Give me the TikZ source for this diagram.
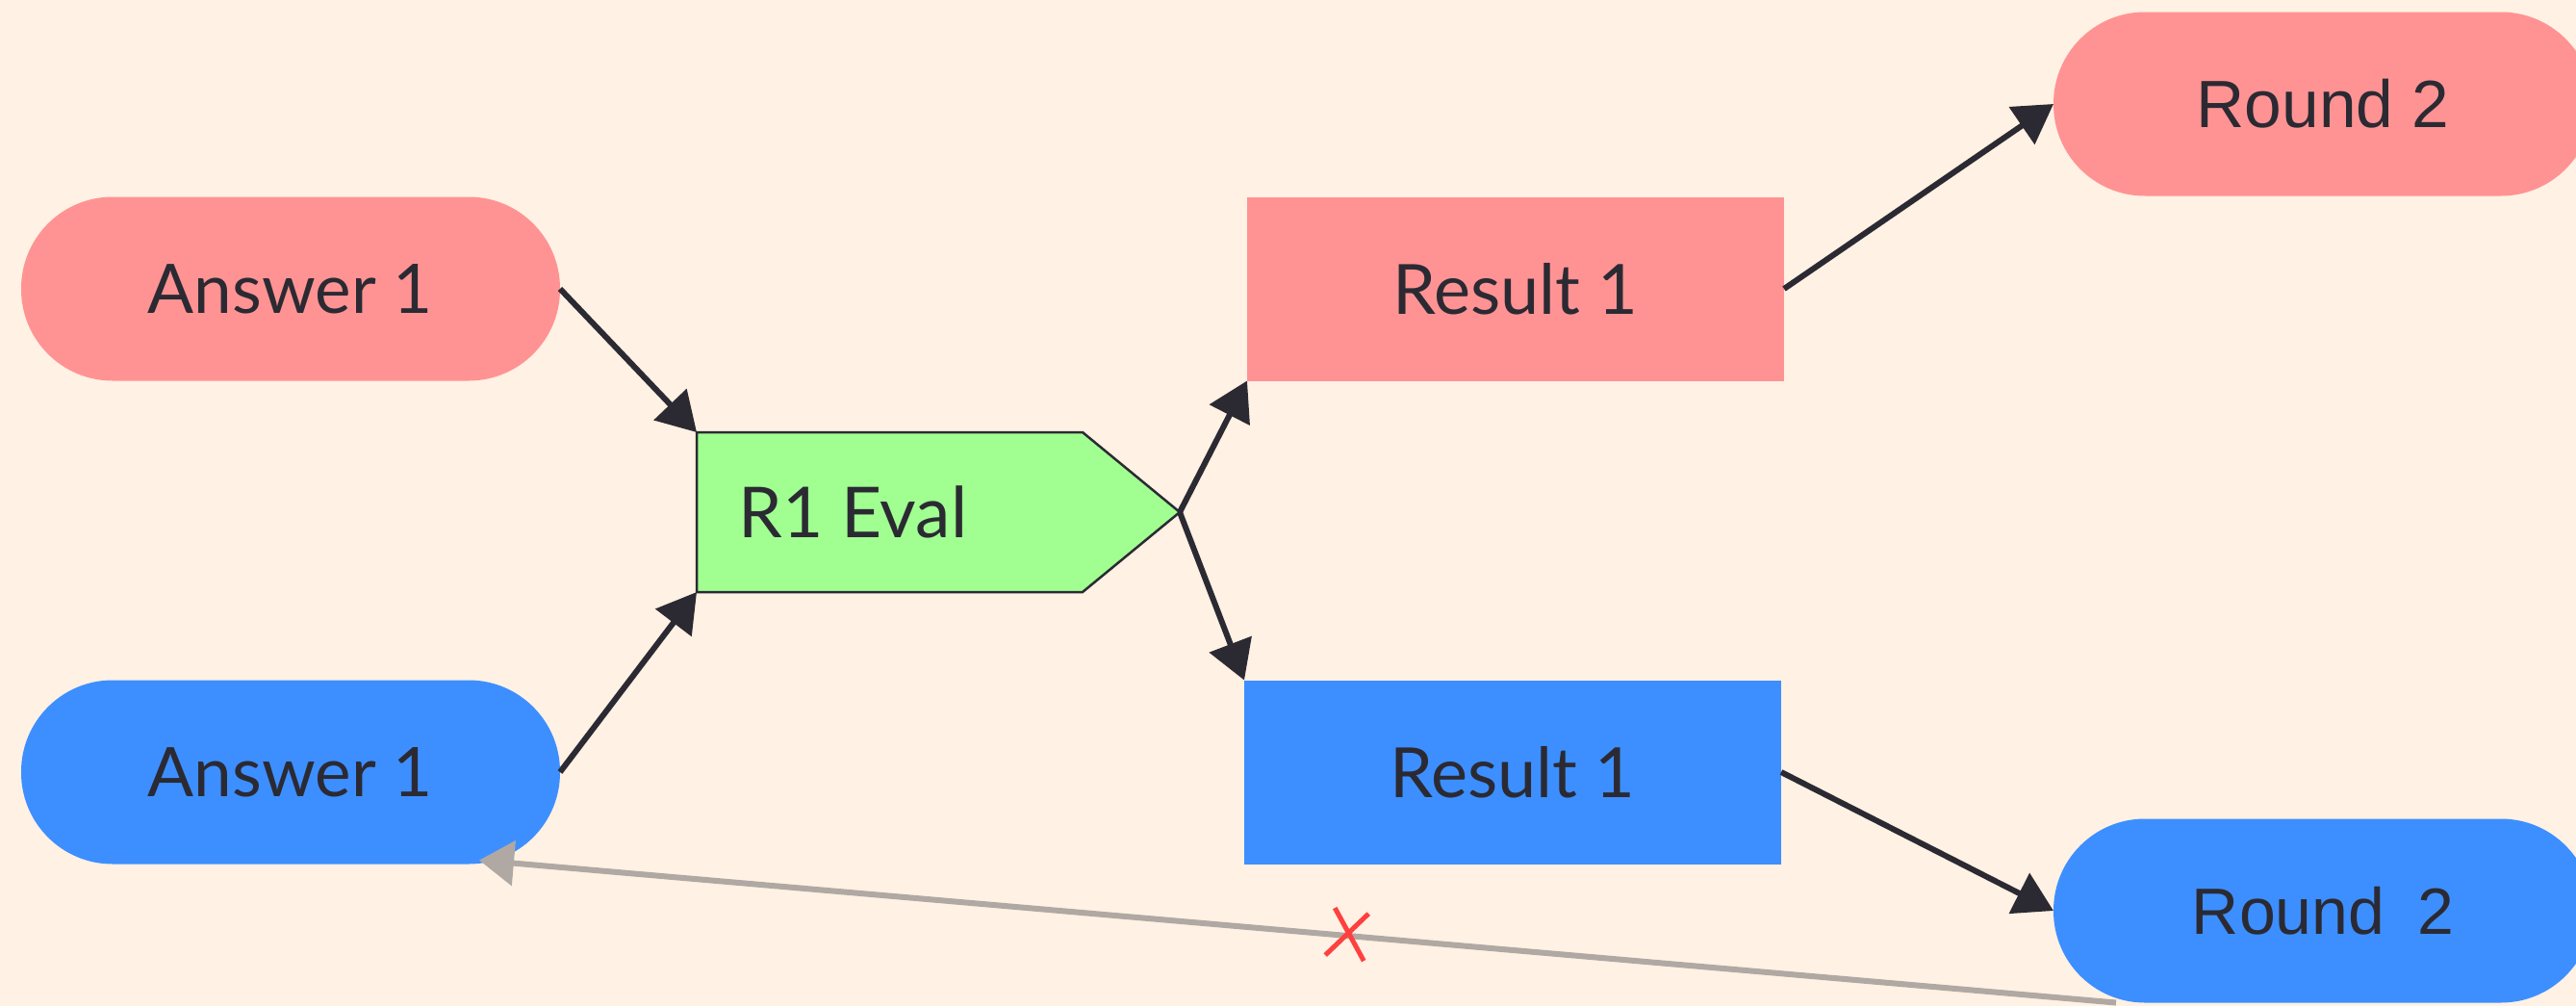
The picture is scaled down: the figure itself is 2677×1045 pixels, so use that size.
\documentclass[tikz,border=0pt]{standalone}
\usepackage{fontspec}
\setmainfont{Lato}
\newfontfamily\roundfont{Liberation Sans}
\usetikzlibrary{arrows.meta,calc}
\definecolor{bgc}{HTML}{FFF1E3}
\definecolor{redc}{HTML}{FF9393}
\definecolor{bluec}{HTML}{3D8FFF}
\definecolor{greenc}{HTML}{A0FF90}
\definecolor{inkc}{HTML}{2B2A33}
\definecolor{grayc}{HTML}{B0A8A3}
\definecolor{xred}{HTML}{FF4040}
\tikzset{
  pill/.style={rectangle, rounded corners=95pt, minimum width=560pt, minimum height=191pt, outer sep=0pt, inner sep=0pt, text=inkc, font=\fontsize{71}{85}\selectfont},
  resbox/.style={rectangle, minimum width=558pt, minimum height=191pt, outer sep=0pt, inner sep=0pt, text=inkc, font=\fontsize{72}{86}\selectfont},
  evalbox/.style={rectangle, minimum width=401pt, minimum height=166pt, outer sep=0pt, inner sep=0pt},
  conn/.style={draw=inkc, line width=6pt, -{Triangle[length=40pt,width=46pt]}},
  back/.style={draw=grayc, line width=6pt, -{Triangle[length=36pt,width=46pt]}},
  xmark/.style={draw=xred, line width=5pt}
}
\begin{document}
\begin{tikzpicture}[x=1pt,y=-1pt]
\fill[bgc] (0,0) rectangle (2677,1045);
\useasboundingbox (0,0) rectangle (2677,1045);
% nodes
\node[pill, fill=redc] (a1r) at (302,300) {Answer 1};
\node[pill, fill=bluec] (a1b) at (302,802) {Answer 1};
\node[evalbox] (ev) at (924.5,532) {};
\coordinate (evtip) at (1226,532);
\fill[greenc, draw=inkc, line width=2.5pt] (ev.north west) -- (ev.north east) -- (evtip) -- (ev.south east) -- (ev.south west) -- cycle;
\node[text=inkc, font=\fontsize{73}{87}\selectfont, anchor=west] (evtext) at (764,532) {R1 Eval};
\node[resbox, fill=redc] (r1r) at (1575,300) {Result 1};
\node[resbox, fill=bluec] (r1b) at (1572,802) {Result 1};
\node[pill, fill=redc, font=\roundfont\fontsize{69.5}{82}\selectfont] (r2r) at (2414,108) {Round 2};
\node[pill, fill=bluec, font=\roundfont\fontsize{68}{80}\selectfont] (r2b) at (2414,946) {Round\hspace{0.5em}2};
% connectors
\draw[conn] (a1r.east) -- (ev.north west);
\draw[conn] (a1b.east) -- (ev.south west);
\draw[conn] (evtip) -- (r1r.south west);
\draw[conn] (evtip) -- (r1b.north west);
\draw[conn] (r1r.east) -- (r2r.west);
\draw[conn] (r1b.east) -- (r2b.west);
% back edge
\coordinate (bstart) at ($(r2b.south west)+(65,0)$);
\coordinate (bend) at ($(a1b.south)+(196,-4)$);
\draw[back] (bstart) -- coordinate[pos=0.469] (xm) (bend);
\draw[xmark] ($(xm)+(-14,-29)$) -- ($(xm)+(16,26)$);
\draw[xmark] ($(xm)+(21,-23)$) -- ($(xm)+(-24,20)$);
\end{tikzpicture}
\end{document}
